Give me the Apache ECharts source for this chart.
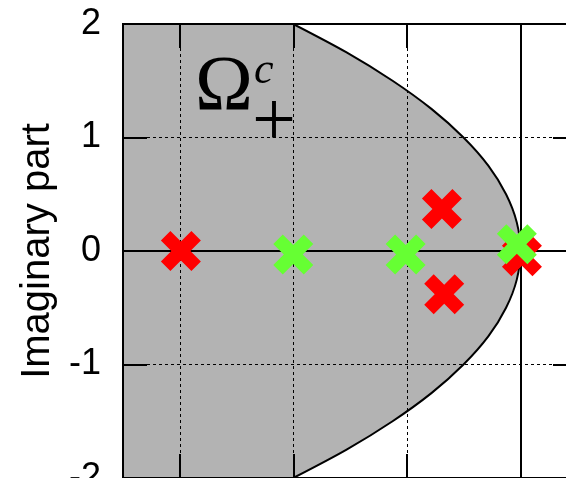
<!DOCTYPE html>
<html>
<head>
<meta charset="utf-8">
<script src="https://cdn.jsdelivr.net/npm/echarts@6/dist/echarts.min.js"></script>
<style>
  html, body { margin: 0; padding: 0; background: #fff; }
  #chart { width: 566px; height: 478px; }
</style>
</head>
<body>
<div id="chart"></div>
<script>
// Eigenvalues (real part, imaginary part)
const redRe = [-2.99, -0.69, -0.67, 0.015];
const redIm = [0.0, 0.37, -0.38, -0.047];
const greenRe = [-2.0, -1.01, -0.03];
const greenIm = [-0.03, -0.03, 0.06];

// Boundary of the region Omega_+^c (right edge of the shaded set)
const boundaryIm = [-2, -1.75, -1.5, -1.25, -1, -0.75, -0.5, -0.25, 0, 0.25, 0.5, 0.75, 1, 1.25, 1.5, 1.75, 2];
const boundaryRe = [-2, -1.53, -1.125, -0.78, -0.5, -0.28, -0.125, -0.03, 0, -0.03, -0.125, -0.28, -0.5, -0.78, -1.125, -1.53, -2];

// Axis ranges and tick labels
const xRange = [-3.5, 0.5];
const yRange = [-2, 2];
const yTickLabels = ['-2', '-1', '0', '1', '2'];

const FONT = '"Liberation Sans", Arial, Helvetica, sans-serif';
const SERIF = '"Liberation Serif", "Times New Roman", serif';

// Thick "x" marker
const crossPath = 'path://M0,9.5 L9.5,0 L20,10.5 L30.5,0 L40,9.5 L29.5,20 L40,30.5 L30.5,40 L20,29.5 L9.5,40 L0,30.5 L10.5,20 Z';

const chart = echarts.init(document.getElementById('chart'), null, { renderer: 'canvas' });

const tickStyle = { show: true, inside: true, length: 24, lineStyle: { color: '#000', width: 2 } };
const hiddenLine = { show: false, onZero: false };

const option = {
  animation: false,
  backgroundColor: '#fff',
  grid: {
    left: 123, top: 24, width: 454, height: 454,
    outerBoundsMode: 'none',
    containLabel: false,
    show: true, borderColor: '#000', borderWidth: 2, backgroundColor: 'transparent'
  },
  xAxis: [
    {
      type: 'value', min: xRange[0], max: xRange[1], position: 'bottom',
      axisLine: hiddenLine, axisTick: tickStyle,
      axisLabel: { show: false },
      splitLine: { show: true, lineStyle: { color: '#000', width: 1, type: [3, 3] } }
    },
    {
      type: 'value', min: xRange[0], max: xRange[1], position: 'top',
      axisLine: hiddenLine, axisTick: tickStyle,
      axisLabel: { show: false }, splitLine: { show: false }
    }
  ],
  yAxis: [
    {
      type: 'value', min: yRange[0], max: yRange[1], interval: 1, position: 'left',
      name: 'Imaginary part', nameLocation: 'middle', nameGap: 65,
      nameTextStyle: { fontFamily: FONT, fontSize: 40, color: '#000' },
      axisLine: hiddenLine, axisTick: tickStyle,
      axisLabel: {
        margin: 22, fontFamily: FONT, fontSize: 36, color: '#000',
        formatter: v => yTickLabels[Math.round(v - yRange[0])]
      },
      splitLine: { show: true, lineStyle: { color: '#000', width: 1, type: [3, 3] } }
    },
    {
      type: 'value', min: yRange[0], max: yRange[1], interval: 1, position: 'right',
      axisLine: hiddenLine, axisTick: tickStyle,
      axisLabel: { show: false }, splitLine: { show: false }
    }
  ],
  series: [
    {
      // shaded region left of the parabola-shaped boundary
      type: 'custom',
      z: -1,
      clip: true,
      data: [0],
      renderItem: function (params, api) {
        const curve = boundaryRe.map((re, i) => api.coord([re, boundaryIm[i]]));
        const poly = curve.concat([api.coord([xRange[0], yRange[1]]), api.coord([xRange[0], yRange[0]])]);
        return {
          type: 'group',
          children: [
            { type: 'polygon', shape: { points: poly }, style: { fill: '#b3b3b3', stroke: null } },
            { type: 'polyline', shape: { points: curve, smooth: 0.3 }, style: { fill: null, stroke: '#000', lineWidth: 2 } }
          ]
        };
      }
    },
    {
      type: 'scatter',
      z: 4,
      symbol: crossPath,
      symbolSize: 40,
      itemStyle: { color: '#ff0000', opacity: 1 },
      data: redRe.map((re, i) => [re, redIm[i]]),
      markLine: {
        z: 3,
        silent: true,
        symbol: 'none',
        label: { show: false },
        lineStyle: { color: '#000', width: 2, type: 'solid', opacity: 1 },
        data: [{ xAxis: 0 }, { yAxis: 0 }]
      }
    },
    {
      type: 'scatter',
      z: 5,
      symbol: crossPath,
      symbolSize: 40,
      itemStyle: { color: '#66ff33', opacity: 1 },
      data: greenRe.map((re, i) => [re, greenIm[i]])
    }
  ],
  graphic: [
    { type: 'text', z: 10, x: 195, y: 89, style: { text: 'Ω', font: '78px ' + SERIF, fill: '#000', verticalAlign: 'middle', align: 'left' } },
    { type: 'text', z: 10, x: 254, y: 71, style: { text: 'c', font: 'italic 44px ' + SERIF, fill: '#000', verticalAlign: 'middle', align: 'left' } },
    { type: 'text', z: 10, x: 252, y: 125, style: { text: '+', font: '78px ' + SERIF, fill: '#000', verticalAlign: 'middle', align: 'left' } }
  ]
};

chart.setOption(option);
</script>
</body>
</html>
